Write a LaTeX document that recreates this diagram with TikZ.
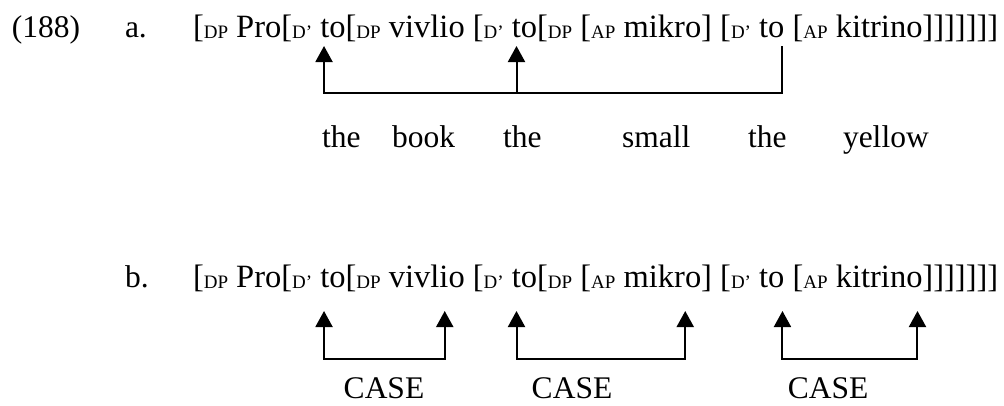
\documentclass[tikz,border=0pt]{standalone}
\usepackage{fontspec}
\setmainfont{Liberation Serif}
\usetikzlibrary{arrows.meta, positioning}

\newcommand{\subcat}[1]{\raisebox{-1.5pt}{\fontsize{19}{19}\selectfont #1}}

\begin{document}
\begin{tikzpicture}[
    x=1pt, y=-1pt,
    txt/.style={anchor=base west, inner sep=0pt, outer sep=0pt, font=\fontsize{31.5}{37}\selectfont},
    seg/.style={txt, font=\fontsize{32.5}{37}\selectfont},
    arr/.style={-{Triangle[width=17pt, length=16pt]}, line width=2pt},
    pair/.style={{Triangle[width=17pt, length=16pt]}-{Triangle[width=17pt, length=16pt]}, line width=2pt},
  ]
    \useasboundingbox (0,0) rectangle (1004,405);

    % example (a)
    \node[txt] (num) at (12,37) {(188)};
    \node[txt] (labA) at (125,37) {a.};
    \node[seg] (a1) at (193,37) {[\subcat{DP}\ Pro[\subcat{D’}\ \null};
    \node[seg, base right=0pt of a1] (toA) {to};
    \node[seg, base right=0pt of toA] (a2) {[\subcat{DP}\ \null};
    \node[seg, base right=0pt of a2] (vivA) {vivlio};
    \node[seg, base right=0pt of vivA] (a3) {\ [\subcat{D’}\ \null};
    \node[seg, base right=0pt of a3] (toB) {to};
    \node[seg, base right=0pt of toB] (a4) {[\subcat{DP}\ [\subcat{AP}\ \null};
    \node[seg, base right=0pt of a4] (mikA) {mikro};
    \node[seg, base right=0pt of mikA] (a5) {]\ [\subcat{D’}\ \null};
    \node[seg, base right=0pt of a5] (toC) {to};
    \node[seg, base right=0pt of toC] (a6) {\ [\subcat{AP}\ \null};
    \node[seg, base right=0pt of a6] (kitA) {kitrino};
    \node[seg, base right=0pt of kitA] (a7) {]]]]]]]};

    \coordinate (tipA) at (0,46);
    \coordinate (barA) at (0,93);
    \draw[arr] ([xshift=-2pt]toC.south east |- tipA) -- ([xshift=-2pt]toC.south east |- barA)
      -- ([xshift=-9pt]toA.south |- barA) -- ([xshift=-9pt]toA.south |- tipA);
    \draw[arr] ([xshift=-8pt]toB.south |- barA) -- ([xshift=-8pt]toB.south |- tipA);

    % glosses
    \node[txt] (g1) at (322,147) {the};
    \node[txt] (g2) at (392,147) {book};
    \node[txt] (g3) at (503,147) {the};
    \node[txt] (g4) at (622,147) {small};
    \node[txt] (g5) at (748,147) {the};
    \node[txt] (g6) at (843,147) {yellow};

    % example (b)
    \node[txt] (labB) at (125,287) {b.};
    \node[seg] (b1) at (193,287) {[\subcat{DP}\ Pro[\subcat{D’}\ \null};
    \node[seg, base right=0pt of b1] (toD) {to};
    \node[seg, base right=0pt of toD] (b2) {[\subcat{DP}\ \null};
    \node[seg, base right=0pt of b2] (vivB) {vivlio};
    \node[seg, base right=0pt of vivB] (b3) {\ [\subcat{D’}\ \null};
    \node[seg, base right=0pt of b3] (toE) {to};
    \node[seg, base right=0pt of toE] (b4) {[\subcat{DP}\ [\subcat{AP}\ \null};
    \node[seg, base right=0pt of b4] (mikB) {mikro};
    \node[seg, base right=0pt of mikB] (b5) {]\ [\subcat{D’}\ \null};
    \node[seg, base right=0pt of b5] (toF) {to};
    \node[seg, base right=0pt of toF] (b6) {\ [\subcat{AP}\ \null};
    \node[seg, base right=0pt of b6] (kitB) {kitrino};
    \node[seg, base right=0pt of kitB] (b7) {]]]]]]]};

    \coordinate (tipB) at (0,311);
    \coordinate (barB) at (0,359);
    \draw[pair] ([xshift=-9pt]toD.south |- tipB) -- ([xshift=-9pt]toD.south |- barB)
      -- ([xshift=-20pt]vivB.south east |- barB) -- ([xshift=-20pt]vivB.south east |- tipB);
    \draw[pair] ([xshift=-8pt]toE.south |- tipB) -- ([xshift=-8pt]toE.south |- barB)
      -- ([xshift=-16pt]mikB.south east |- barB) -- ([xshift=-16pt]mikB.south east |- tipB);
    \draw[pair] ([xshift=-2pt]toF.south east |- tipB) -- ([xshift=-2pt]toF.south east |- barB)
      -- ([xshift=-5pt]kitB.south east |- barB) -- ([xshift=-5pt]kitB.south east |- tipB);

    \node[txt, anchor=base] (case1) at (384,398) {CASE};
    \node[txt, anchor=base] (case2) at (572,398) {CASE};
    \node[txt, anchor=base] (case3) at (828,398) {CASE};
\end{tikzpicture}
\end{document}
